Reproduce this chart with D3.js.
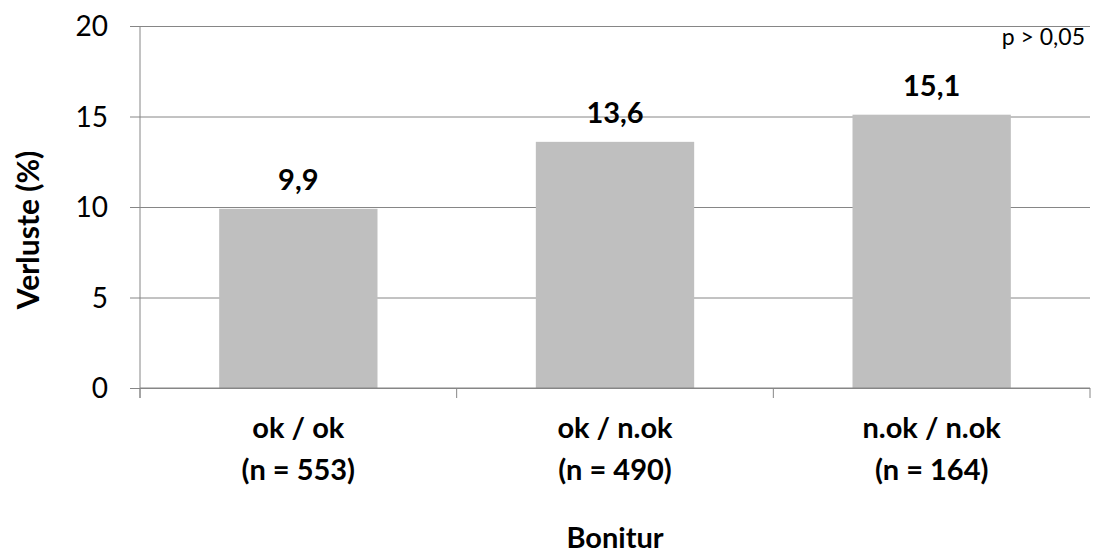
<!DOCTYPE html>
<html>
<head>
<meta charset="utf-8">
<script src="https://cdn.jsdelivr.net/npm/d3@7"></script>
<style>
  html, body { margin: 0; padding: 0; background: #fff; }
  svg text { font-family: Lato, "Open Sans", "Noto Sans", sans-serif; fill: #000; }
</style>
</head>
<body>
<svg id="chart" width="1094" height="556"></svg>
<script>
// Verluste nach Bonitur
const categories = ["ok / ok", "ok / n.ok", "n.ok / n.ok"];
const sampleSizes = ["(n = 553)", "(n = 490)", "(n = 164)"];
const losses = [9.9, 13.6, 15.1];
const valueLabels = ["9,9", "13,6", "15,1"];
const yTicks = [0, 5, 10, 15, 20];

const svg = d3.select("#chart");
const plotLeft = 140, plotRight = 1090, plotTop = 26, plotBottom = 388;

const x = d3.scaleBand()
  .domain(categories)
  .range([plotLeft, plotRight])
  .paddingInner(0.5)
  .paddingOuter(0.25);

const y = d3.scaleLinear().domain([0, 20]).range([plotBottom, plotTop]);

// horizontal gridlines with small outer tick marks
const grid = svg.append("g").attr("transform", `translate(${plotLeft},0)`)
  .call(d3.axisLeft(y).tickValues(yTicks).tickSize(-(plotRight - plotLeft)).tickFormat(""));
grid.select(".domain").remove();
grid.selectAll(".tick line").attr("stroke", "#868686").attr("x1", -10);

// y axis line
svg.append("line")
  .attr("x1", plotLeft).attr("x2", plotLeft)
  .attr("y1", plotTop).attr("y2", plotBottom + 10)
  .attr("stroke", "#868686");

// y tick labels
svg.append("g").selectAll("text").data(yTicks).join("text")
  .attr("x", 108).attr("y", d => y(d) + 10)
  .attr("text-anchor", "end")
  .style("font-size", "28px")
  .text(d => d);

// bars
svg.append("g").selectAll("rect").data(losses).join("rect")
  .attr("x", (d, i) => x(categories[i]))
  .attr("y", d => y(d))
  .attr("width", x.bandwidth())
  .attr("height", d => y(0) - y(d))
  .attr("fill", "#bfbfbf");

// value labels
svg.append("g").selectAll("text").data(losses).join("text")
  .attr("x", (d, i) => x(categories[i]) + x.bandwidth() / 2)
  .attr("y", d => y(d) - 19)
  .attr("text-anchor", "middle")
  .style("font-size", "29px")
  .style("font-weight", "bold")
  .text((d, i) => valueLabels[i]);

// x axis line and category separators
svg.append("line")
  .attr("x1", plotLeft).attr("x2", plotRight)
  .attr("y1", plotBottom).attr("y2", plotBottom)
  .attr("stroke", "#868686");
const step = x.step();
const sepX = d3.range(categories.length + 1).map(i => plotLeft + i * step);
svg.append("g").selectAll("line").data(sepX).join("line")
  .attr("x1", d => d).attr("x2", d => d)
  .attr("y1", plotBottom).attr("y2", plotBottom + 10)
  .attr("stroke", "#868686");

// category labels (two lines)
const catG = svg.append("g").selectAll("text").data(categories).join("text")
  .attr("text-anchor", "middle")
  .style("font-size", "29px")
  .style("font-weight", "bold");
catG.append("tspan").attr("x", d => x(d) + x.bandwidth() / 2).attr("y", 438).text(d => d);
catG.append("tspan").attr("x", d => x(d) + x.bandwidth() / 2).attr("y", 480).text((d, i) => sampleSizes[i]);

// axis titles
svg.append("text")
  .attr("x", (plotLeft + plotRight) / 2).attr("y", 548)
  .attr("text-anchor", "middle")
  .style("font-size", "29px")
  .style("font-weight", "bold")
  .text("Bonitur");

svg.append("text")
  .attr("transform", "translate(39,230) rotate(-90)")
  .attr("text-anchor", "middle")
  .style("font-size", "30px")
  .style("font-weight", "bold")
  .text("Verluste (%)");

// significance note
svg.append("text")
  .attr("x", 1085).attr("y", 45)
  .attr("text-anchor", "end")
  .style("font-size", "23px")
  .text("p > 0,05");
</script>
</body>
</html>
